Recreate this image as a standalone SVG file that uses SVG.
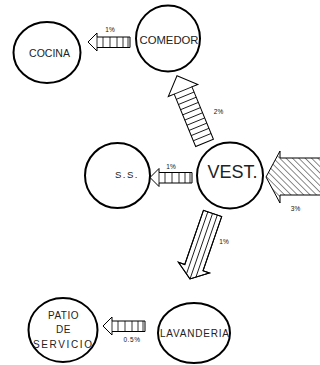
<svg xmlns="http://www.w3.org/2000/svg" width="320" height="365" viewBox="0 0 320 365">
<style>
.node{fill:#fff;stroke:#000;stroke-width:2}
.lbl{font-family:"Liberation Sans",Arial,sans-serif;fill:#222;text-anchor:middle}
.pct{font-family:"Liberation Sans",Arial,sans-serif;font-size:6.5px;fill:#111;text-anchor:middle}
.ar{fill:#fff;stroke:#000;stroke-width:1;stroke-linejoin:miter}
.h{stroke:#000;stroke-width:0.8}
</style>
<defs>
<pattern id="diag" width="4.5" height="4.5" patternUnits="userSpaceOnUse" patternTransform="rotate(-45)">
<rect width="4.5" height="4.5" fill="#fff"/>
<line x1="0" y1="0" x2="0" y2="4.5" stroke="#000" stroke-width="0.9"/>
</pattern>
<g id="harrow">
<path class="ar" d="M0,0 L9,-9 L9,-5 L42,-5 L42,5.5 L9,5.5 L9,9 Z"/>
<path class="h" d="M9,-5V5.5M15,-5V5.5M22,-5V5.5M29,-5V5.5M35,-5V5.5M40,-5V5.5"/>
</g>
<clipPath id="downclip">
<polygon points="0,0 16.4,12 9.65,12 9.65,69.3 -9.65,69.3 -9.65,12 -16.4,12"/>
</clipPath>
</defs>
<rect width="320" height="365" fill="#fff"/>

<g id="connectors">
<g id="c-comedor-cocina">
<use href="#harrow" transform="translate(88,42)"/>
<text class="pct" x="110" y="32">1%</text>
</g>
<g id="c-vest-ss">
<use href="#harrow" transform="translate(150,177.5)"/>
<text class="pct" x="171" y="168.5">1%</text>
</g>
<g id="c-lav-patio">
<use href="#harrow" transform="translate(103,326)"/>
<text class="pct" x="132" y="342" letter-spacing="0.6">0.5%</text>
</g>
<g id="c-vest-comedor">
<g transform="translate(177,75.7) rotate(-22.3)">
<polygon class="ar" points="0,0 16,16 9.6,16 9.6,72.6 -9.6,72.6 -9.6,16 -16,16"/>
<path class="h" d="M-9.6,16H9.6M-9.6,21.6H9.6M-9.6,27.2H9.6M-9.6,32.8H9.6M-9.6,38.4H9.6M-9.6,44H9.6M-9.6,49.6H9.6M-9.6,55.2H9.6M-9.6,60.8H9.6M-9.6,66.4H9.6"/>
</g>
<text class="pct" x="218.5" y="114">2%</text>
</g>
<g id="c-vest-lav">
<g transform="translate(190,279) rotate(199)">
<polygon class="ar" points="0,0 16.4,12 9.65,12 9.65,69.3 -9.65,69.3 -9.65,12 -16.4,12"/>
<path class="h" clip-path="url(#downclip)" d="M-5,0V70M0,0V70M5,0V70"/>
<polygon points="0,0 16.4,12 9.65,12 9.65,69.3 -9.65,69.3 -9.65,12 -16.4,12" fill="none" stroke="#000" stroke-width="1"/>
</g>
<text class="pct" x="224" y="243.5">1%</text>
</g>
<g id="c-in-vest">
<polygon points="266,177 280,151 280,158 322,158 322,195 280,195 280,203" fill="url(#diag)" stroke="#000" stroke-width="1"/>
<text class="pct" x="295.5" y="211">3%</text>
</g>
</g>

<g id="n-cocina">
<ellipse class="node" cx="47" cy="52.5" rx="33.5" ry="30.5"/>
<text class="lbl" x="49.5" y="57.3" font-size="10.5">COCINA</text>
</g>
<g id="n-comedor">
<ellipse class="node" cx="168" cy="38.5" rx="32" ry="33"/>
<text class="lbl" x="169" y="44.3" font-size="11.3">COMEDOR</text>
</g>
<g id="n-ss">
<circle class="node" cx="117.5" cy="175.5" r="32.5"/>
<text class="lbl" x="127" y="178.3" font-size="9.5" letter-spacing="1.5">S.S.</text>
</g>
<g id="n-vest">
<circle class="node" cx="230" cy="175.5" r="33"/>
<text class="lbl" x="232.5" y="178.3" font-size="18">VEST.</text>
</g>
<g id="n-patio">
<ellipse class="node" cx="63" cy="330" rx="34.5" ry="32"/>
<text class="lbl" x="63.5" y="319" font-size="10" letter-spacing="0.5">PATIO</text>
<text class="lbl" x="63.5" y="333" font-size="10" letter-spacing="0.5">DE</text>
<text class="lbl" x="62.5" y="348" font-size="10" textLength="59" lengthAdjust="spacing">SERVICIO</text>
</g>
<g id="n-lavanderia">
<ellipse class="node" cx="194" cy="333" rx="36" ry="30"/>
<text class="lbl" x="194.5" y="337" font-size="10" textLength="69" lengthAdjust="spacing">LAVANDERIA</text>
</g>
</svg>
